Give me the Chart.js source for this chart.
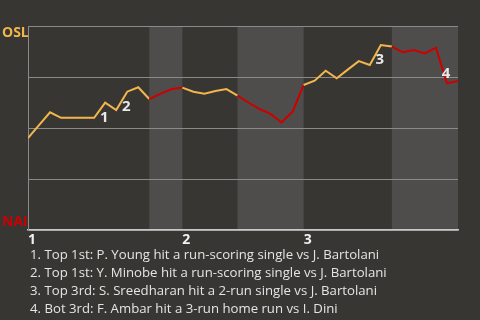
<!DOCTYPE html>
<html>
<head>
<meta charset="utf-8">
<script src="https://cdn.jsdelivr.net/npm/chart.js@4"></script>
<style>
  html, body { margin: 0; background: #383633; }
  #wrap { width: 480px; height: 320px; }
</style>
</head>
<body>
<div id="wrap"><canvas id="c"></canvas></div>
<script>
// win probability for OSL, one value per play
const oslProb = [
  0.451, 0.514, 0.577, 0.550, 0.550, 0.550, 0.550, 0.624, 0.588, 0.678,
  0.700, 0.642, 0.667, 0.690, 0.698, 0.678, 0.668, 0.681, 0.691, 0.659,
  0.625, 0.593, 0.569, 0.527, 0.580, 0.711, 0.732, 0.781, 0.744, 0.786,
  0.828, 0.809, 0.907, 0.899, 0.871, 0.882, 0.866, 0.894, 0.719, 0.730
];
const innings = ['1', '2', '3'];
const inningStarts = [0, 14, 25];
// [first play, last play] of each bottom half
const bottomHalves = [[11, 14], [19, 25], [33, 39]];
const eventPlays = [7, 9, 32, 38];
const eventTeams = ['OSL', 'OSL', 'OSL', 'NAI'];
const notes = [
  '1. Top 1st: P. Young hit a run-scoring single vs J. Bartolani',
  '2. Top 1st: Y. Minobe hit a run-scoring single vs J. Bartolani',
  '3. Top 3rd: S. Sreedharan hit a 2-run single vs J. Bartolani',
  '4. Bot 3rd: F. Ambar hit a 3-run home run vs I. Dini'
];

const YELLOW = '#f2b64c';
const RED = '#cc0000';
const isBottom = i => bottomHalves.some(([s, e]) => i >= s && i < e);

const backdrop = {
  id: 'backdrop',
  beforeDraw(chart) {
    const { ctx, chartArea: a, scales: { x } } = chart;
    ctx.save();
    ctx.fillStyle = '#383633';
    ctx.fillRect(0, 0, chart.width, chart.height);
    ctx.fillStyle = '#4f4d4b';
    bottomHalves.forEach(([s, e]) => {
      const x0 = x.getPixelForValue(s);
      const x1 = x.getPixelForValue(e);
      ctx.fillRect(x0, a.top, x1 - x0, a.bottom - a.top);
    });
    ctx.restore();
  },
  afterDatasetsDraw(chart) {
    const { ctx, chartArea: a } = chart;
    const meta = chart.getDatasetMeta(0);
    ctx.save();
    ctx.font = 'bold 15px "Open Sans", sans-serif';
    ctx.fillStyle = '#e8e8e8';
    ctx.textAlign = 'center';
    ctx.textBaseline = 'middle';
    eventPlays.forEach((p, i) => {
      const pt = meta.data[p];
      const dy = eventTeams[i] === 'OSL' ? 15 : -10;
      ctx.fillText(String(i + 1), pt.x - 1, pt.y + dy);
    });

    ctx.font = 'bold 14px "Open Sans", sans-serif';
    ctx.textAlign = 'left';
    ctx.fillStyle = YELLOW;
    ctx.fillText('OSL', 2, a.top + 7);
    ctx.fillStyle = RED;
    ctx.fillText('NAI', 2, a.bottom - 8);

    ctx.font = '13.2px "Open Sans", sans-serif';
    ctx.fillStyle = '#e4e4e4';
    notes.forEach((t, i) => ctx.fillText(t, 30, a.bottom + 25 + i * 18));
    ctx.restore();
  }
};

new Chart(document.getElementById('c'), {
  type: 'line',
  data: {
    datasets: [{
      data: oslProb.map((v, i) => ({ x: i, y: v })),
      borderWidth: 2,
      pointRadius: 0,
      tension: 0,
      borderColor: YELLOW,
      segment: {
        borderColor: c => isBottom(c.p0DataIndex) ? RED : YELLOW
      }
    }]
  },
  options: {
    responsive: true,
    maintainAspectRatio: false,
    animation: false,
    layout: { padding: { left: 28, right: 22, top: 26, bottom: 60 } },
    plugins: { legend: { display: false }, tooltip: { enabled: false } },
    scales: {
      x: {
        type: 'linear',
        min: 0,
        max: oslProb.length - 1,
        afterBuildTicks: s => { s.ticks = inningStarts.map(v => ({ value: v })); },
        afterFit: s => { s.height = 30; },
        grid: { display: false },
        border: { display: true, color: '#c8c8c8', width: 1.5 },
        ticks: {
          align: 'start',
          padding: -6,
          maxRotation: 0,
          color: '#f0f0f0',
          font: { family: '"Open Sans", sans-serif', size: 14, weight: 'bold' },
          callback: v => innings[inningStarts.indexOf(v)]
        }
      },
      y: {
        min: 0,
        max: 1,
        afterFit: s => { s.width = 0; },
        grid: { color: '#8a8a8a', drawTicks: false },
        border: { display: true, color: '#8a8a8a' },
        ticks: { display: false, stepSize: 0.25 }
      }
    }
  },
  plugins: [backdrop]
});
</script>
</body>
</html>
